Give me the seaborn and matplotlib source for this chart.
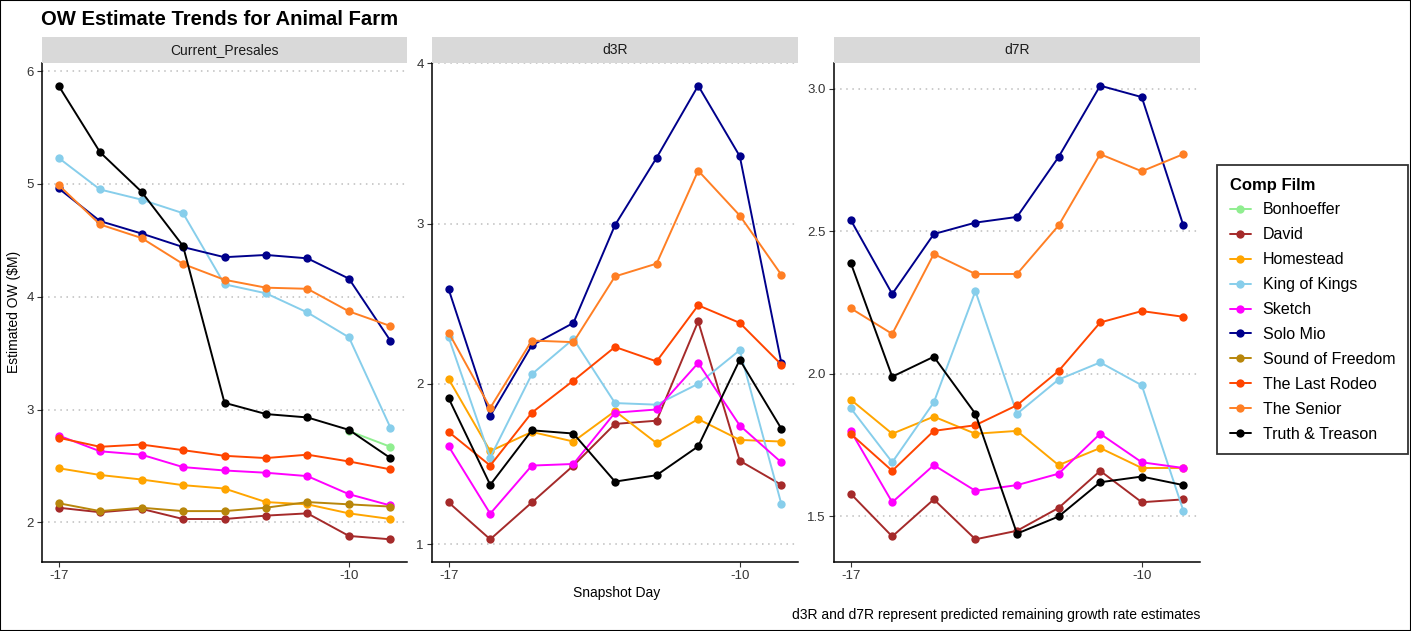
import numpy as np
import pandas as pd
import seaborn as sns
import matplotlib.pyplot as plt
from matplotlib.lines import Line2D
from matplotlib.patches import Rectangle
from matplotlib.ticker import MultipleLocator, FormatStrFormatter

sns.set_style("ticks")
plt.rcParams['font.family'] = ['Liberation Sans', 'DejaVu Sans']
plt.rcParams['axes.unicode_minus'] = False
plt.rcParams['text.color'] = 'black'

nan = np.nan

#snapshot days and comp films
days = [-17, -16, -15, -14, -13, -12, -11, -10, -9]
films = ["Bonhoeffer", "David", "Homestead", "King of Kings", "Sketch",
         "Solo Mio", "Sound of Freedom", "The Last Rodeo", "The Senior",
         "Truth & Treason"]
film_colors = ["#90EE90", "#A52A2A", "#FFA500", "#87CEEB", "#FF00FF",
               "#00008B", "#B8860B", "#FF4500", "#FF7F24", "#000000"]

#estimated OW ($M) per film, one list per metric
presales = {
    "Bonhoeffer":       [nan, nan, nan, nan, nan, nan, nan, 2.81, 2.67],
    "David":            [2.13, 2.09, 2.12, 2.03, 2.03, 2.06, 2.08, 1.88, 1.85],
    "Homestead":        [2.48, 2.42, 2.38, 2.33, 2.30, 2.18, 2.16, 2.08, 2.03],
    "King of Kings":    [5.23, 4.95, 4.86, 4.74, 4.11, 4.03, 3.86, 3.64, 2.84],
    "Sketch":           [2.77, 2.63, 2.60, 2.49, 2.46, 2.44, 2.41, 2.25, 2.15],
    "Solo Mio":         [4.96, 4.67, 4.56, 4.44, 4.35, 4.37, 4.34, 4.16, 3.61],
    "Sound of Freedom": [2.17, 2.10, 2.13, 2.10, 2.10, 2.13, 2.18, 2.16, 2.14],
    "The Last Rodeo":   [2.75, 2.67, 2.69, 2.64, 2.59, 2.57, 2.60, 2.54, 2.47],
    "The Senior":       [4.99, 4.64, 4.52, 4.29, 4.15, 4.08, 4.07, 3.87, 3.74],
    "Truth & Treason":  [5.87, 5.28, 4.93, 4.45, 3.06, 2.96, 2.93, 2.82, 2.57],
}
d3r = {
    "David":            [1.26, 1.03, 1.26, 1.49, 1.75, 1.77, 2.39, 1.52, 1.37],
    "Homestead":        [2.03, 1.58, 1.70, 1.64, 1.83, 1.63, 1.78, 1.65, 1.64],
    "King of Kings":    [2.29, 1.54, 2.06, 2.28, 1.88, 1.87, 2.00, 2.21, 1.25],
    "Sketch":           [1.61, 1.19, 1.49, 1.50, 1.82, 1.84, 2.13, 1.74, 1.51],
    "Solo Mio":         [2.59, 1.80, 2.24, 2.38, 2.99, 3.41, 3.86, 3.42, 2.13],
    "The Last Rodeo":   [1.70, 1.49, 1.82, 2.02, 2.23, 2.14, 2.49, 2.38, 2.12],
    "The Senior":       [2.32, 1.85, 2.27, 2.26, 2.67, 2.75, 3.33, 3.05, 2.68],
    "Truth & Treason":  [1.91, 1.37, 1.71, 1.69, 1.39, 1.43, 1.61, 2.15, 1.72],
}
d7r = {
    "David":            [1.58, 1.43, 1.56, 1.42, 1.45, 1.53, 1.66, 1.55, 1.56],
    "Homestead":        [1.91, 1.79, 1.85, 1.79, 1.80, 1.68, 1.74, 1.67, 1.67],
    "King of Kings":    [1.88, 1.69, 1.90, 2.29, 1.86, 1.98, 2.04, 1.96, 1.52],
    "Sketch":           [1.80, 1.55, 1.68, 1.59, 1.61, 1.65, 1.79, 1.69, 1.67],
    "Solo Mio":         [2.54, 2.28, 2.49, 2.53, 2.55, 2.76, 3.01, 2.97, 2.52],
    "The Last Rodeo":   [1.79, 1.66, 1.80, 1.82, 1.89, 2.01, 2.18, 2.22, 2.20],
    "The Senior":       [2.23, 2.14, 2.42, 2.35, 2.35, 2.52, 2.77, 2.71, 2.77],
    "Truth & Treason":  [2.39, 1.99, 2.06, 1.86, 1.44, 1.50, 1.62, 1.64, 1.61],
}
metrics = ["Current_Presales", "d3R", "d7R"]
tables = [presales, d3r, d7r]

#long format frame
rows = []
for metric, table in zip(metrics, tables):
    for film, vals in table.items():
        for d, v in zip(days, vals):
            rows.append({'metric': metric, 'film': film, 'day': d, 'ow': v})
df = pd.DataFrame(rows).dropna()

palette = dict(zip(films, film_colors))

W, H = 1411, 631
fig = plt.figure(figsize=(W / 100, H / 100), dpi=100)

#panel pixel boxes (left, right)
panel_x = [(42, 407), (432, 798), (834, 1200)]
top, bottom = 63, 562
strip_top = 37
steps = [1, 1, 0.5]
fmts = ['%d', '%d', '%.1f']

for i, metric in enumerate(metrics):
    x0, x1 = panel_x[i]
    ax = fig.add_axes([x0 / W, 1 - bottom / H, (x1 - x0) / W, (bottom - top) / H])
    sub = df[df['metric'] == metric]
    sns.lineplot(data=sub, x='day', y='ow', hue='film', hue_order=films,
                 palette=palette, marker='o', markersize=6, markeredgewidth=0,
                 linewidth=1.4, errorbar=None, legend=False, ax=ax)
    ax.margins(x=0.05, y=0.05)
    ax.set_xticks([-17, -10])
    ax.yaxis.set_major_locator(MultipleLocator(steps[i]))
    ax.yaxis.set_major_formatter(FormatStrFormatter(fmts[i]))
    ax.grid(axis='y', linestyle=(0, (1, 3)), color='#BDBDBD', linewidth=1.1)
    ax.set_axisbelow(True)
    ax.set_xlabel('')
    ax.set_ylabel('')
    for side in ['top', 'right']:
        ax.spines[side].set_visible(False)
    for side in ['left', 'bottom']:
        ax.spines[side].set_linewidth(1.1)
        ax.spines[side].set_color('black')
    ax.tick_params(axis='both', labelsize=9.5, labelcolor='#333333',
                   color='#333333', length=3.5, width=0.8, pad=2.5)

    #facet strip
    sax = fig.add_axes([x0 / W, 1 - top / H, (x1 - x0) / W, (top - strip_top) / H])
    sax.set_facecolor('#D9D9D9')
    sax.set_xticks([])
    sax.set_yticks([])
    for s in sax.spines.values():
        s.set_visible(False)
    sax.text(0.5, 0.5, metric, ha='center', va='center', fontsize=10,
             color='#1A1A1A', transform=sax.transAxes)

#titles and labels
fig.text(41 / W, 1 - 25 / H, "OW Estimate Trends for Animal Farm",
         fontsize=14.6, fontweight='bold', ha='left', va='baseline')
fig.text(14 / W, 1 - 312 / H, r"Estimated OW (\$M)", rotation=90,
         fontsize=10, ha='center', va='center')
fig.text(617 / W, 1 - 597 / H, "Snapshot Day", fontsize=10,
         ha='center', va='baseline')
fig.text(1200 / W, 1 - 619 / H,
         "d3R and d7R represent predicted remaining growth rate estimates",
         fontsize=10, ha='right', va='baseline')

#legend
handles = [Line2D([0], [0], color=c, marker='o', markersize=6,
                  markeredgewidth=0, linewidth=1.4) for c in film_colors]
leg = fig.legend(handles, films, title="Comp Film", loc='upper left',
                 bbox_to_anchor=(1217 / W, 1 - 165 / H), borderaxespad=0,
                 frameon=True, fancybox=False, edgecolor='black',
                 fontsize=11.5,
                 title_fontproperties={'weight': 'bold', 'size': 12},
                 labelspacing=0.62, handlelength=1.3, handletextpad=0.75,
                 borderpad=0.8, alignment='left')
leg.get_frame().set_linewidth(1.3)
leg._legend_box.sep = 7

#outer border
fig.add_artist(Rectangle((0, 0), 1, 1, transform=fig.transFigure,
                         fill=False, edgecolor='black', linewidth=1.5))

fig.savefig("out.png", dpi=100)
